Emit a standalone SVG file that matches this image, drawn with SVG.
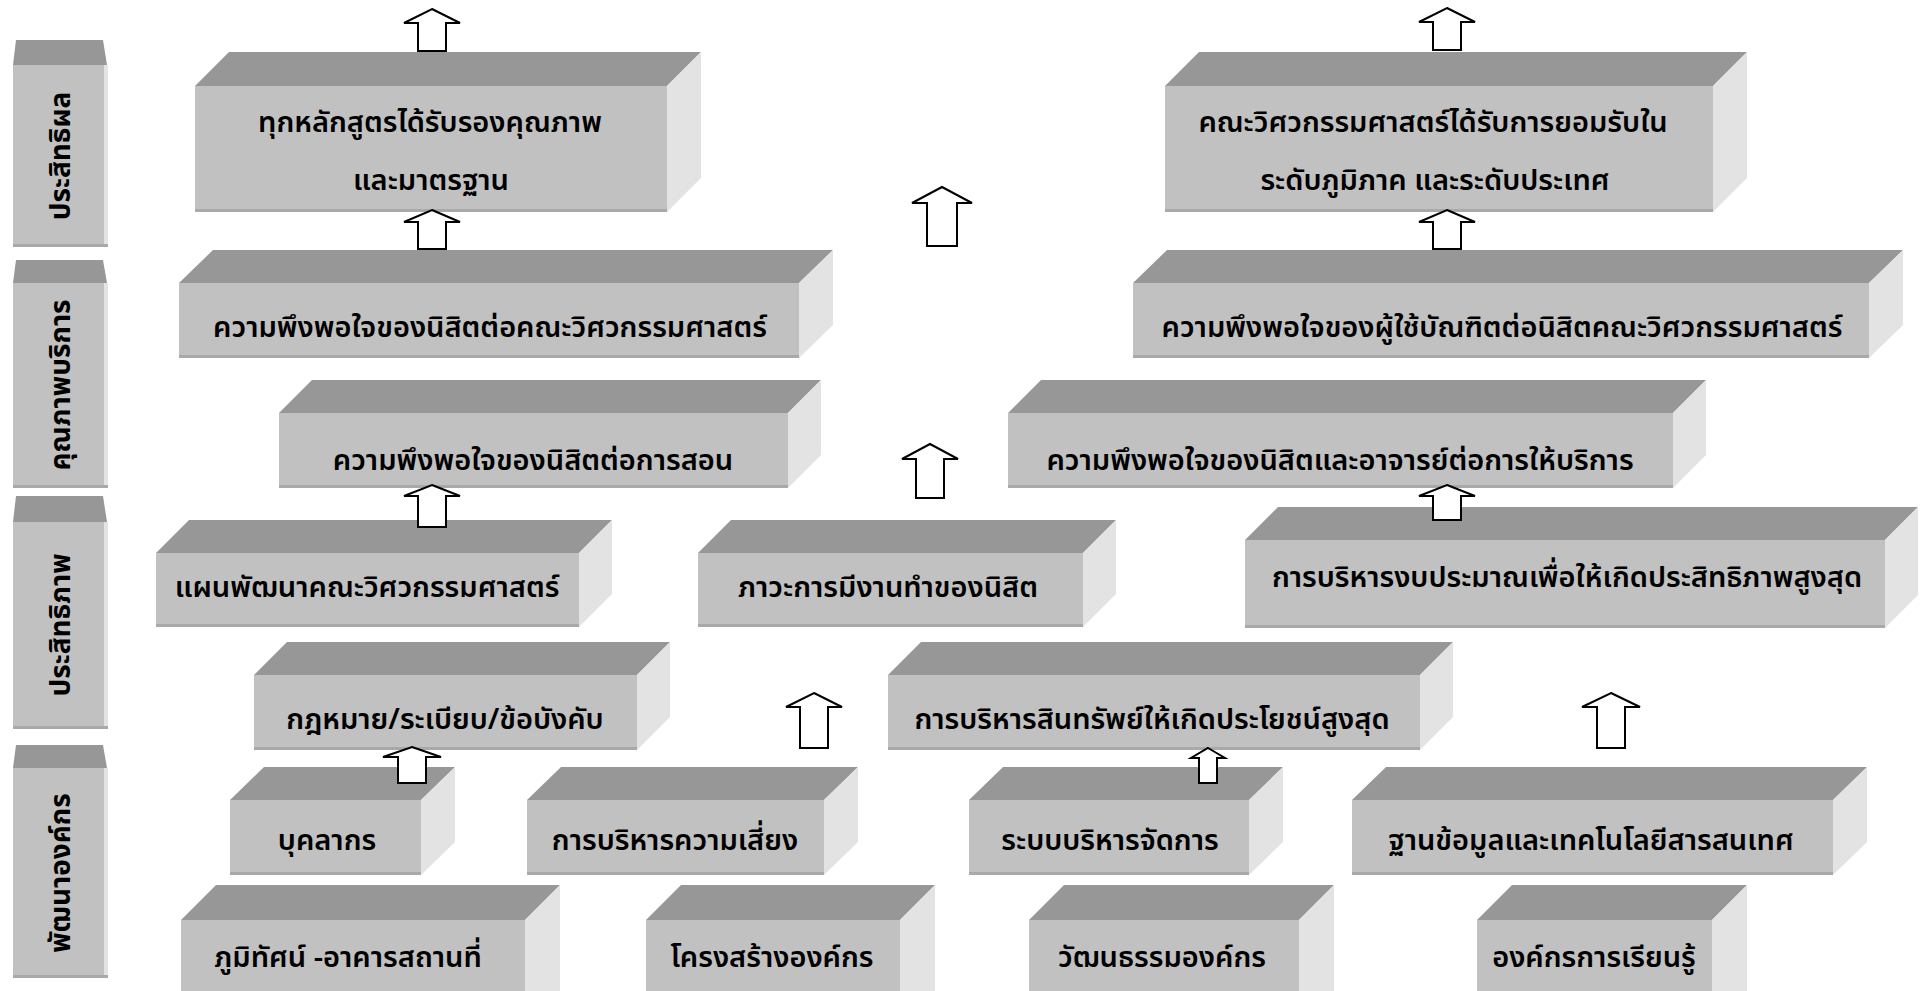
<svg xmlns="http://www.w3.org/2000/svg" width="1921" height="991" viewBox="0 0 1921 991">
<defs>
<style>
.top{fill:#979797}
.front{fill:#c1c1c1}
.side{fill:#e3e3e3}
.edge{fill:#a9a9a9}
.t{font-family:"Noto Sans Thai","Noto Sans","DejaVu Sans",sans-serif;font-size:29px;font-weight:600;fill:#000;text-anchor:middle}
.lb{font-family:"Noto Sans Thai","Noto Sans","DejaVu Sans",sans-serif;font-size:28px;font-weight:bold;fill:#000;text-anchor:middle}
.arr{fill:#fff;stroke:#000;stroke-width:2;stroke-linejoin:miter}
</style>
</defs>
<rect width="1921" height="991" fill="#fff"/>

<g id="labels">
<g id="label-effectiveness">
<polygon class="top" points="16,40 103,40 107,65 13,65"/>
<rect class="front" x="13" y="65" width="92" height="182"/>
<rect class="side" x="104" y="65" width="4" height="182"/>
<rect class="edge" x="13" y="244" width="95" height="3"/>
<text class="lb" transform="translate(70,156) rotate(-90)">ประสิทธิผล</text>
</g>
<g id="label-service-quality">
<polygon class="top" points="16,260 103,260 107,283 13,283"/>
<rect class="front" x="13" y="283" width="92" height="205"/>
<rect class="side" x="104" y="283" width="4" height="205"/>
<rect class="edge" x="13" y="485" width="95" height="3"/>
<text class="lb" transform="translate(70,385) rotate(-90)">คุณภาพบริการ</text>
</g>
<g id="label-efficiency">
<polygon class="top" points="16,496 103,496 107,522 13,522"/>
<rect class="front" x="13" y="522" width="92" height="207"/>
<rect class="side" x="104" y="522" width="4" height="207"/>
<rect class="edge" x="13" y="726" width="95" height="3"/>
<text class="lb" transform="translate(70,625) rotate(-90)">ประสิทธิภาพ</text>
</g>
<g id="label-org-dev">
<polygon class="top" points="16,745 103,745 107,768 13,768"/>
<rect class="front" x="13" y="768" width="92" height="210"/>
<rect class="side" x="104" y="768" width="4" height="210"/>
<rect class="edge" x="13" y="975" width="95" height="3"/>
<text class="lb" transform="translate(70,873) rotate(-90)">พัฒนาองค์กร</text>
</g>
</g>

<g id="nodes">
<g id="b1">
<polygon class="top" points="195,86 229,52 701,52 667,86"/>
<polygon class="side" points="667,86 701,52 701,178 667,212"/>
<rect class="front" x="195" y="86" width="472" height="126"/>
<rect class="edge" x="195" y="209" width="472" height="3"/>
<text class="t" x="430" y="132">ทุกหลักสูตรได้รับรองคุณภาพ</text>
<text class="t" x="431" y="190">และมาตรฐาน</text>
</g>
<g id="b2">
<polygon class="top" points="1165,86 1199,52 1747,52 1713,86"/>
<polygon class="side" points="1713,86 1747,52 1747,178 1713,212"/>
<rect class="front" x="1165" y="86" width="548" height="126"/>
<rect class="edge" x="1165" y="209" width="548" height="3"/>
<text class="t" x="1433" y="132">คณะวิศวกรรมศาสตร์ได้รับการยอมรับใน</text>
<text class="t" x="1435" y="190">ระดับภูมิภาค และระดับประเทศ</text>
</g>
<g id="b3">
<polygon class="top" points="179,283 213,250 833,250 799,283"/>
<polygon class="side" points="799,283 833,250 833,325 799,358"/>
<rect class="front" x="179" y="283" width="620" height="75"/>
<rect class="edge" x="179" y="355" width="620" height="3"/>
<text class="t" x="490" y="337">ความพึงพอใจของนิสิตต่อคณะวิศวกรรมศาสตร์</text>
</g>
<g id="b4">
<polygon class="top" points="1133,283 1167,250 1903,250 1869,283"/>
<polygon class="side" points="1869,283 1903,250 1903,325 1869,358"/>
<rect class="front" x="1133" y="283" width="736" height="75"/>
<rect class="edge" x="1133" y="355" width="736" height="3"/>
<text class="t" x="1502" y="337">ความพึงพอใจของผู้ใช้บัณฑิตต่อนิสิตคณะวิศวกรรมศาสตร์</text>
</g>
<g id="b5">
<polygon class="top" points="279,413 312,380 821,380 788,413"/>
<polygon class="side" points="788,413 821,380 821,455 788,488"/>
<rect class="front" x="279" y="413" width="509" height="75"/>
<rect class="edge" x="279" y="485" width="509" height="3"/>
<text class="t" x="533" y="470">ความพึงพอใจของนิสิตต่อการสอน</text>
</g>
<g id="b6">
<polygon class="top" points="1008,413 1041,380 1706,380 1673,413"/>
<polygon class="side" points="1673,413 1706,380 1706,455 1673,488"/>
<rect class="front" x="1008" y="413" width="665" height="75"/>
<rect class="edge" x="1008" y="485" width="665" height="3"/>
<text class="t" x="1340" y="470">ความพึงพอใจของนิสิตและอาจารย์ต่อการให้บริการ</text>
</g>
<g id="b7">
<polygon class="top" points="156,553 189,520 612,520 579,553"/>
<polygon class="side" points="579,553 612,520 612,594 579,627"/>
<rect class="front" x="156" y="553" width="423" height="74"/>
<rect class="edge" x="156" y="624" width="423" height="3"/>
<text class="t" x="367" y="597">แผนพัฒนาคณะวิศวกรรมศาสตร์</text>
</g>
<g id="b8">
<polygon class="top" points="698,553 731,520 1116,520 1083,553"/>
<polygon class="side" points="1083,553 1116,520 1116,594 1083,627"/>
<rect class="front" x="698" y="553" width="385" height="74"/>
<rect class="edge" x="698" y="624" width="385" height="3"/>
<text class="t" x="888" y="597">ภาวะการมีงานทำของนิสิต</text>
</g>
<g id="b9">
<polygon class="top" points="1245,540 1278,507 1918,507 1885,540"/>
<polygon class="side" points="1885,540 1918,507 1918,595 1885,628"/>
<rect class="front" x="1245" y="540" width="640" height="88"/>
<rect class="edge" x="1245" y="625" width="640" height="3"/>
<text class="t" x="1567" y="587">การบริหารงบประมาณเพื่อให้เกิดประสิทธิภาพสูงสุด</text>
</g>
<g id="b10">
<polygon class="top" points="254,675 287,642 670,642 637,675"/>
<polygon class="side" points="637,675 670,642 670,717 637,750"/>
<rect class="front" x="254" y="675" width="383" height="75"/>
<rect class="edge" x="254" y="747" width="383" height="3"/>
<text class="t" x="445" y="729">กฎหมาย/ระเบียบ/ข้อบังคับ</text>
</g>
<g id="b11">
<polygon class="top" points="888,675 921,642 1453,642 1420,675"/>
<polygon class="side" points="1420,675 1453,642 1453,717 1420,750"/>
<rect class="front" x="888" y="675" width="532" height="75"/>
<rect class="edge" x="888" y="747" width="532" height="3"/>
<text class="t" x="1152" y="729">การบริหารสินทรัพย์ให้เกิดประโยชน์สูงสุด</text>
</g>
<g id="b12">
<polygon class="top" points="230,800 264,767 455,767 421,800"/>
<polygon class="side" points="421,800 455,767 455,842 421,875"/>
<rect class="front" x="230" y="800" width="191" height="75"/>
<rect class="edge" x="230" y="872" width="191" height="3"/>
<text class="t" x="327" y="850">บุคลากร</text>
</g>
<g id="b13">
<polygon class="top" points="527,800 561,767 858,767 824,800"/>
<polygon class="side" points="824,800 858,767 858,842 824,875"/>
<rect class="front" x="527" y="800" width="297" height="75"/>
<rect class="edge" x="527" y="872" width="297" height="3"/>
<text class="t" x="675" y="850">การบริหารความเสี่ยง</text>
</g>
<g id="b14">
<polygon class="top" points="969,800 1003,767 1283,767 1249,800"/>
<polygon class="side" points="1249,800 1283,767 1283,842 1249,875"/>
<rect class="front" x="969" y="800" width="280" height="75"/>
<rect class="edge" x="969" y="872" width="280" height="3"/>
<text class="t" x="1110" y="850">ระบบบริหารจัดการ</text>
</g>
<g id="b15">
<polygon class="top" points="1352,800 1386,767 1867,767 1833,800"/>
<polygon class="side" points="1833,800 1867,767 1867,842 1833,875"/>
<rect class="front" x="1352" y="800" width="481" height="75"/>
<rect class="edge" x="1352" y="872" width="481" height="3"/>
<text class="t" x="1591" y="850">ฐานข้อมูลและเทคโนโลยีสารสนเทศ</text>
</g>
<g id="b16">
<polygon class="top" points="181,920 216,885 560,885 525,920"/>
<polygon class="side" points="525,920 560,885 560,991 525,991"/>
<rect class="front" x="181" y="920" width="344" height="71"/>
<text class="t" x="348" y="967">ภูมิทัศน์ -อาคารสถานที่</text>
</g>
<g id="b17">
<polygon class="top" points="646,920 681,885 935,885 900,920"/>
<polygon class="side" points="900,920 935,885 935,991 900,991"/>
<rect class="front" x="646" y="920" width="254" height="71"/>
<text class="t" x="772" y="967">โครงสร้างองค์กร</text>
</g>
<g id="b18">
<polygon class="top" points="1029,920 1064,885 1334,885 1299,920"/>
<polygon class="side" points="1299,920 1334,885 1334,991 1299,991"/>
<rect class="front" x="1029" y="920" width="270" height="71"/>
<text class="t" x="1162" y="967">วัฒนธรรมองค์กร</text>
</g>
<g id="b19">
<polygon class="top" points="1477,920 1512,885 1747,885 1712,920"/>
<polygon class="side" points="1712,920 1747,885 1747,991 1712,991"/>
<rect class="front" x="1477" y="920" width="235" height="71"/>
<text class="t" x="1594" y="967">องค์กรการเรียนรู้</text>
</g>
</g>

<g id="connectors">
<path class="arr" d="M432,9 L460,23 L446,23 L446,51 L418,51 L418,23 L404,23 Z"/>
<path class="arr" d="M1447,8 L1475,22 L1461,22 L1461,50 L1433,50 L1433,22 L1419,22 Z"/>
<path class="arr" d="M432,210 L460,222 L446,222 L446,249 L418,249 L418,222 L404,222 Z"/>
<path class="arr" d="M1447,210 L1475,222 L1461,222 L1461,249 L1433,249 L1433,222 L1419,222 Z"/>
<path class="arr" d="M942,187 L972,203 L957,203 L957,246 L927,246 L927,203 L912,203 Z"/>
<path class="arr" d="M432,485 L460,496 L446,496 L446,527 L418,527 L418,496 L404,496 Z"/>
<path class="arr" d="M930,444 L958,459 L944,459 L944,498 L916,498 L916,459 L902,459 Z"/>
<path class="arr" d="M1447,485 L1475,496 L1461,496 L1461,520 L1433,520 L1433,496 L1419,496 Z"/>
<path class="arr" d="M412,747 L441,757 L426,757 L426,783 L398,783 L398,757 L383,757 Z"/>
<path class="arr" d="M814,693 L842,707 L828,707 L828,748 L800,748 L800,707 L786,707 Z"/>
<path class="arr" d="M1208,748 L1225,758 L1217,758 L1217,783 L1199,783 L1199,758 L1191,758 Z"/>
<path class="arr" d="M1611,693 L1640,707 L1625,707 L1625,748 L1597,748 L1597,707 L1582,707 Z"/>
</g>
</svg>
